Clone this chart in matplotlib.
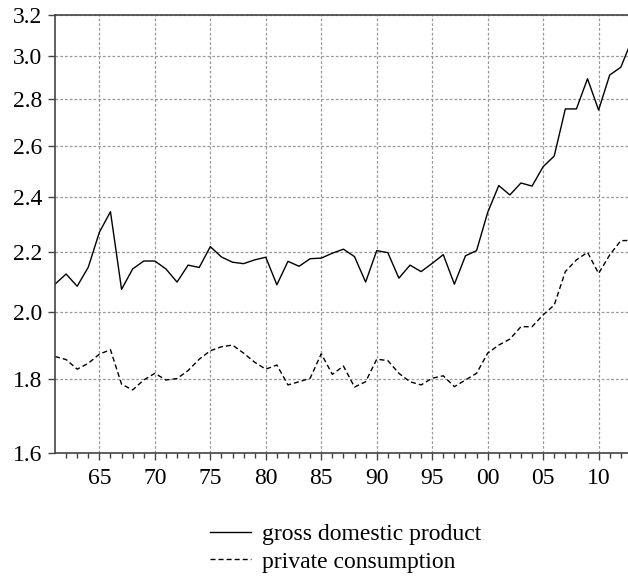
import numpy as np
import matplotlib.pyplot as plt
from matplotlib.ticker import FixedLocator, NullFormatter, NullLocator

plt.rcParams['font.family'] = ['Liberation Serif', 'DejaVu Serif']

# Data (yearly, 1961-2013)
years = np.arange(1961, 2014)
gdp = [2.090, 2.124, 2.083, 2.147, 2.269, 2.344, 2.073, 2.141, 2.168, 2.168,
       2.141, 2.097, 2.154, 2.146, 2.218, 2.182, 2.164, 2.159, 2.172, 2.181,
       2.088, 2.167, 2.150, 2.176, 2.178, 2.195, 2.209, 2.183, 2.097, 2.204,
       2.197, 2.110, 2.154, 2.132, 2.160, 2.190, 2.090, 2.186, 2.204, 2.341,
       2.443, 2.407, 2.453, 2.441, 2.517, 2.560, 2.758, 2.758, 2.893, 2.753,
       2.910, 2.946, 3.076]
cons = [1.864, 1.855, 1.827, 1.844, 1.871, 1.884, 1.784, 1.768, 1.796, 1.815,
        1.796, 1.800, 1.823, 1.856, 1.881, 1.893, 1.898, 1.874, 1.847, 1.827,
        1.839, 1.782, 1.791, 1.801, 1.872, 1.812, 1.836, 1.776, 1.791, 1.856,
        1.852, 1.815, 1.791, 1.782, 1.801, 1.808, 1.777, 1.796, 1.815, 1.874,
        1.898, 1.916, 1.954, 1.954, 1.991, 2.022, 2.132, 2.172, 2.198, 2.126,
        2.189, 2.239, 2.240]
ytick_vals = [1.6, 1.8, 2.0, 2.2, 2.4, 2.6, 2.8, 3.0, 3.2]
xtick_years = [1965, 1970, 1975, 1980, 1985, 1990, 1995, 2000, 2005, 2010]
xtick_labels = ['65', '70', '75', '80', '85', '90', '95', '00', '05', '10']
names = ['gross domestic product', 'private consumption']

fig = plt.figure(figsize=(6.28, 5.82), dpi=100)
ax = fig.add_axes([55/628, 1-453/582, 1-55/628, (453-15)/582])

ax.plot(years, gdp, color='black', lw=1.0, label=names[0])
ax.plot(years, cons, color='black', lw=1.0, dashes=(3.6, 2.2), label=names[1])

ax.set_yscale('log')
ax.set_ylim(1.6, 3.2)
ax.yaxis.set_major_locator(FixedLocator(ytick_vals))
ax.yaxis.set_minor_locator(NullLocator())
ax.yaxis.set_minor_formatter(NullFormatter())
ax.set_yticklabels(['%.1f' % v for v in ytick_vals])

ax.set_xlim(1961, 2012.65)
ax.set_xticks(xtick_years)
ax.set_xticklabels(xtick_labels)
ax.set_xticks(np.arange(1962, 2013), minor=True)

ax.grid(True, which='major', color='#999999', ls=(0, (2.2, 1.6)), lw=0.9)
ax.tick_params(axis='both', which='major', direction='out', length=5, width=1,
               color='#444444', labelsize=17, pad=4)
ax.tick_params(axis='x', which='minor', direction='out', length=3.4, width=1,
               color='#444444')
ax.tick_params(axis='x', which='major', pad=6)

for s in ['left', 'bottom', 'top']:
    ax.spines[s].set_color('#444444')
    ax.spines[s].set_linewidth(1.2)
ax.spines['right'].set_visible(False)

fig.legend(loc='center', bbox_to_anchor=(0.55, 0.058), frameon=False,
           fontsize=17, handlelength=1.75, handletextpad=0.45, labelspacing=0.25)

fig.savefig('out.png', dpi=100)
